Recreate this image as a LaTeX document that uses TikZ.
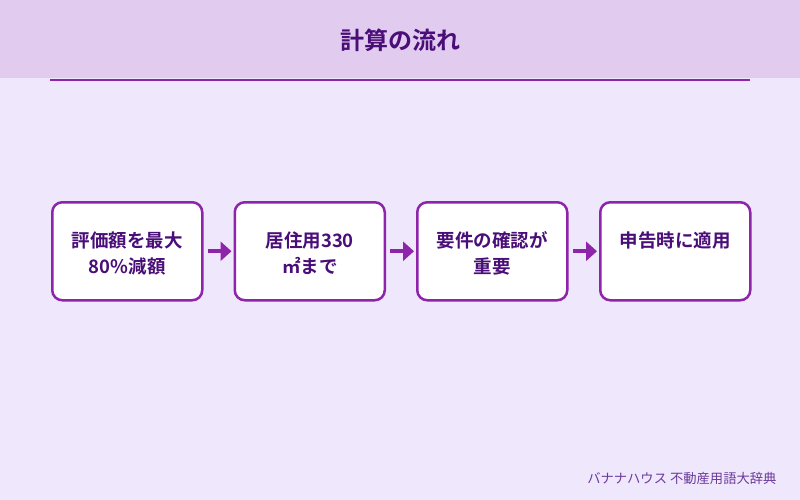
\documentclass[tikz,border=0pt]{standalone}
\usepackage{fontspec}
\setmainfont{Noto Sans CJK JP}[BoldFont={* Bold}]
\usetikzlibrary{arrows.meta}
\definecolor{bg}{HTML}{EFE8FC}
\definecolor{hdr}{HTML}{E1CCF0}
\definecolor{pur}{HTML}{8E24AA}
\definecolor{dark}{HTML}{4A0E78}
\definecolor{foot}{HTML}{6A3A9A}
\tikzset{
  stepbox/.style={draw=pur, line width=2.5pt, fill=white, rounded corners=10pt, minimum width=150pt, minimum height=98pt, anchor=north west, inner sep=0pt},
  steptext/.style={text=dark, font=\bfseries\fontsize{18.5}{26}\selectfont, align=center, anchor=north},
  flow/.style={draw=pur, line width=4pt, -{Triangle[length=11pt,width=19pt]}}
}
\begin{document}
\begin{tikzpicture}[x=1pt,y=-1pt]
\useasboundingbox (0,0) rectangle (800,500);
\fill[bg] (0,0) rectangle (800,500);
\fill[hdr] (0,0) rectangle (800,78);
\node[text=dark, font=\bfseries\fontsize{24}{26}\selectfont] (title) at (400,40) {計算の流れ};
\draw[pur, line width=2pt] (50,80.5) -- (750,80.5);
\node[stepbox] (b1) at (51,201) {};
\node[stepbox] (b2) at (233.5,201) {};
\node[stepbox] (b3) at (416,201) {};
\node[stepbox] (b4) at (599,201) {};
\node[steptext] (t1) at ([yshift=-27pt]b1.north) {評価額を最大\\80\%減額};
\node[steptext] (t2) at ([yshift=-27pt]b2.north) {居住用330\\㎡まで};
\node[steptext] (t3) at ([yshift=-27pt]b3.north) {要件の確認が\\重要};
\node[steptext] (t4) at ([yshift=-27pt]b4.north) {申告時に適用};
\draw[flow] ([xshift=4pt]b1.east) -- ([xshift=-2pt]b2.west);
\draw[flow] ([xshift=4pt]b2.east) -- ([xshift=-2pt]b3.west);
\draw[flow] ([xshift=4pt]b3.east) -- ([xshift=-2pt]b4.west);
\node[text=foot, font=\fontsize{13.3}{15}\selectfont, anchor=east] (ft) at (780,478) {バナナハウス 不動産用語大辞典};
\end{tikzpicture}
\end{document}
